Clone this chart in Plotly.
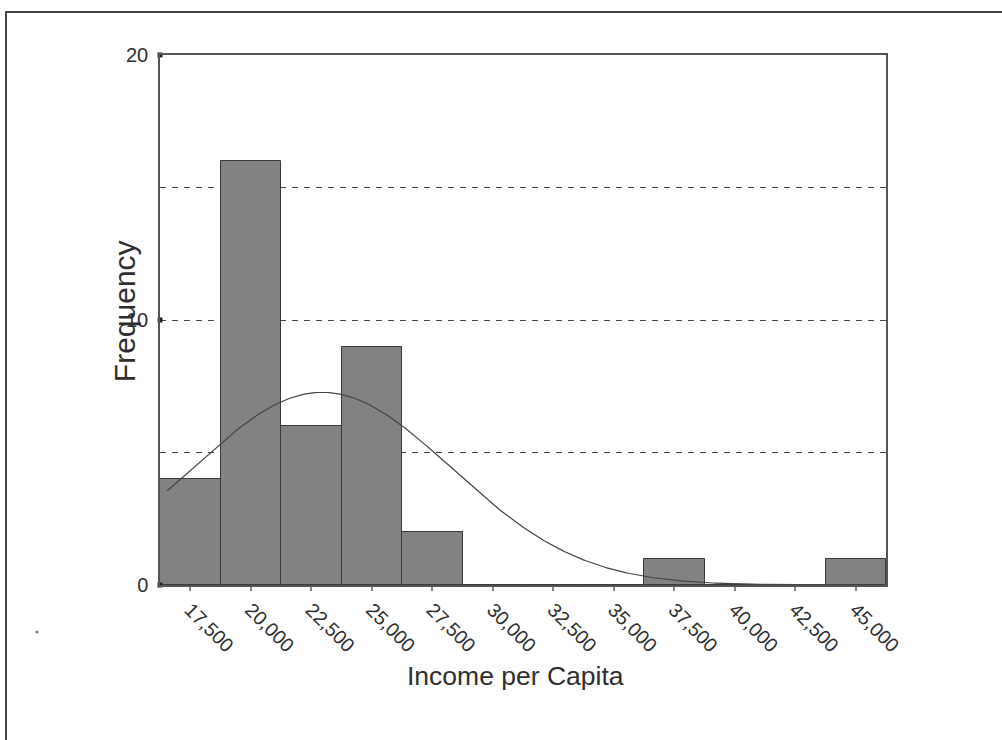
import numpy as np
import plotly.graph_objects as go

# ---- data ----
bin_centers = [17500, 20000, 22500, 25000, 27500, 30000, 32500, 35000, 37500, 40000, 42500, 45000]
frequencies = [4, 16, 6, 9, 2, 0, 0, 0, 1, 0, 0, 1]
tick_labels = ["17,500", "20,000", "22,500", "25,000", "27,500", "30,000",
               "32,500", "35,000", "37,500", "40,000", "42,500", "45,000"]
y_major_ticks = [0, 10, 20]
bin_width = 2500
# fitted normal curve parameters
curve_mean = 22950
curve_sd = 5350
n_total = sum(frequencies)

FONT = "Arial, Liberation Sans, sans-serif"
TXT = "#2e2e2e"

x_lo = bin_centers[0] - bin_width / 2
x_hi = bin_centers[-1] + bin_width / 2
xc = np.linspace(x_lo + 300, x_hi, 400)
yc = n_total * bin_width / (curve_sd * np.sqrt(2 * np.pi)) * np.exp(-0.5 * ((xc - curve_mean) / curve_sd) ** 2)

fig = go.Figure()
fig.add_trace(go.Bar(
    x=bin_centers, y=frequencies, width=bin_width,
    marker=dict(color="#828282", line=dict(color="#3a3a3a", width=1)),
    showlegend=False, hoverinfo="skip",
))
fig.add_trace(go.Scatter(
    x=xc, y=yc, mode="lines", line=dict(color="#444444", width=1.2),
    showlegend=False, hoverinfo="skip",
))
# small square tick markers on the y axis
fig.add_trace(go.Scatter(
    x=[x_lo] * len(y_major_ticks), y=y_major_ticks, mode="markers",
    marker=dict(symbol="square", size=5, color="#222222"),
    cliponaxis=False, showlegend=False, hoverinfo="skip",
))

fig.update_layout(
    width=1002, height=740,
    margin=dict(l=160, r=116, t=55, b=155),
    paper_bgcolor="white", plot_bgcolor="white",
    bargap=0,
    font=dict(family=FONT, color=TXT),
    xaxis=dict(
        range=[x_lo, x_hi], tickvals=bin_centers, ticktext=tick_labels,
        tickangle=45, tickfont=dict(size=19.5, family=FONT, color=TXT),
        showgrid=False, zeroline=False,
        showline=True, linecolor="#555555", linewidth=1.5, mirror=True,
        ticks="outside", ticklen=4, tickwidth=2, tickcolor="#888888",
    ),
    yaxis=dict(
        range=[0, 20], tickvals=[0, 5, 10, 15, 20], ticktext=["0", "", "10", "", "20"],
        tickfont=dict(size=20, family=FONT, color=TXT),
        showgrid=True, gridcolor="#444444", gridwidth=1, griddash="6px,6px",
        zeroline=False,
        showline=True, linecolor="#555555", linewidth=1.5, mirror=True,
        ticks="", ticklabelstandoff=6,
    ),
    annotations=[
        dict(text="Frequency", x=-0.048, y=0.517, xref="paper", yref="paper",
             textangle=-90, showarrow=False, xanchor="center", yanchor="middle",
             font=dict(size=30, family=FONT, color=TXT)),
        dict(text="Income per Capita", x=0.489, y=-0.172, xref="paper", yref="paper",
             showarrow=False, xanchor="center", yanchor="middle",
             font=dict(size=26.5, family=FONT, color=TXT)),
    ],
    shapes=[
        dict(type="rect", xref="paper", yref="paper",
             x0=(6 - 160) / 726, x1=(1010 - 160) / 726,
             y0=(585 - 760) / 530, y1=(585 - 12) / 530,
             line=dict(color="#444444", width=2), fillcolor="rgba(0,0,0,0)", layer="above"),
        dict(type="circle", xref="paper", yref="paper",
             x0=(35.5 - 160) / 726, x1=(38.5 - 160) / 726,
             y0=(585 - 633.5) / 530, y1=(585 - 630.5) / 530,
             line=dict(width=0), fillcolor="#777777"),
    ],
)

fig.write_html("out.html")
